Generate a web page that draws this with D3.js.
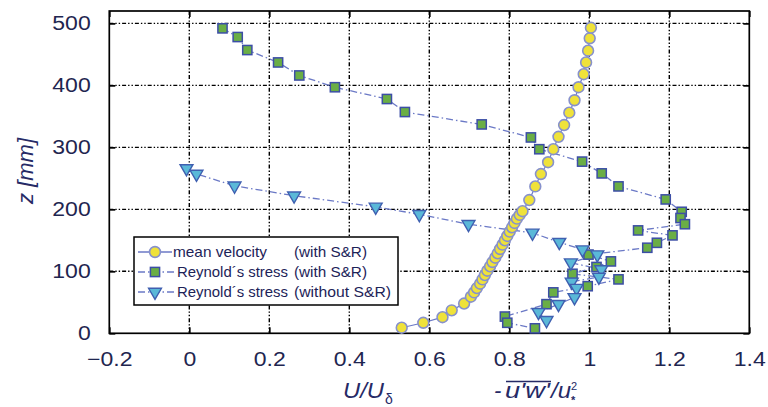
<!DOCTYPE html>
<html><head><meta charset="utf-8">
<script src="https://cdn.jsdelivr.net/npm/d3@7"></script>
<style>body{margin:0;background:#fff}svg{display:block}text{font-family:"Liberation Sans",Arial,sans-serif}</style>
</head><body><svg id="c" width="768" height="407"></svg>
<script>
// ---- data ----
const xTicks = [-0.2, 0, 0.2, 0.4, 0.6, 0.8, 1, 1.2, 1.4];
const yTicks = [0, 100, 200, 300, 400, 500];

// mean velocity U/U_delta (with S&R)
const velZ = [9, 17, 26, 37, 48, 59, 66, 73, 80, 87, 94, 101, 108, 115, 122, 129, 136, 143, 150, 157, 164, 171, 178, 185, 191, 197, 215, 237, 257, 276, 297, 317, 336, 356, 376, 397, 418, 437, 456, 476, 493];
const velU = [0.531, 0.585, 0.633, 0.656, 0.687, 0.704, 0.712, 0.719, 0.727, 0.733, 0.739, 0.745, 0.752, 0.758, 0.765, 0.771, 0.777, 0.783, 0.789, 0.795, 0.801, 0.807, 0.813, 0.819, 0.826, 0.833, 0.850, 0.865, 0.879, 0.897, 0.910, 0.923, 0.937, 0.950, 0.963, 0.973, 0.986, 0.992, 0.997, 1.001, 1.004];

// Reynolds stress (with S&R)
const sqZ = [492, 478, 457, 437, 416, 397, 378, 357, 337, 316, 297, 277, 258, 237, 216, 196, 186, 176, 166, 158, 146, 138, 127, 116, 107, 96, 87, 76, 66, 47, 27, 17, 8];
const sqV = [0.083, 0.121, 0.145, 0.222, 0.275, 0.364, 0.494, 0.539, 0.731, 0.854, 0.875, 0.982, 1.031, 1.073, 1.191, 1.231, 1.228, 1.239, 1.122, 1.208, 1.169, 1.145, 0.998, 1.054, 1.018, 0.958, 1.073, 0.996, 0.910, 0.893, 0.789, 0.795, 0.864];

// Reynolds stress (without S&R)
const triZ = [266, 257, 238, 222, 204, 192, 176, 162, 147, 135, 127, 114, 103, 91, 83, 73, 58, 47, 34, 21];
const triV = [-0.007, 0.018, 0.113, 0.262, 0.466, 0.575, 0.698, 0.858, 0.925, 0.983, 1.020, 0.954, 1.030, 1.024, 0.956, 0.968, 0.963, 0.923, 0.873, 0.893];

const legendLabels = ["mean velocity", "Reynold\u00b4s stress", "Reynold\u00b4s stress"];
const legendNotes = ["(with S&R)", "(with S&R)", "(without S&R)"];

// ---- drawing ----
const svg = d3.select("#c");
const L = 109.3, R = 749.3, T = 11, B = 333.3;
const x = d3.scaleLinear().domain([-0.2, 1.4]).range([L, R]);
const y = d3.scaleLinear().domain([0, 520]).range([B, T]);
const tickColor = "#1f2650";

// grid
const gridDash = "4,2,1.4,2,1.4,2";
svg.append("g").selectAll("line").data(xTicks.slice(1, -1)).join("line")
  .attr("x1", d => x(d)).attr("x2", d => x(d)).attr("y1", T).attr("y2", B)
  .attr("stroke", "#000").attr("stroke-width", 1.4).attr("stroke-dasharray", gridDash);
svg.append("g").selectAll("line").data(yTicks.slice(1)).join("line")
  .attr("y1", d => y(d)).attr("y2", d => y(d)).attr("x1", L).attr("x2", R)
  .attr("stroke", "#000").attr("stroke-width", 1.4).attr("stroke-dasharray", gridDash);

function styleAxis(g, labels) {
  g.select(".domain").remove();
  g.selectAll(".tick line").attr("stroke", "#000").attr("stroke-width", 1.7);
  if (!labels) { g.selectAll("text").remove(); return; }
  g.attr("font-size", 20).attr("font-family", '"Liberation Sans", Arial, sans-serif');
  g.selectAll("text").attr("fill", tickColor).each(function () {
    const w = this.getComputedTextLength();
    d3.select(this).attr("textLength", w * 1.15).attr("lengthAdjust", "spacingAndGlyphs");
  });
}
const fmt = d3.format("~g");
svg.append("g").attr("transform", `translate(0,${B})`)
  .call(d3.axisBottom(x).tickValues(xTicks).tickSize(-6).tickPadding(18.5).tickFormat(fmt))
  .call(g => styleAxis(g, true));
svg.append("g").attr("transform", `translate(0,${T})`)
  .call(d3.axisTop(x).tickValues(xTicks).tickSize(-6))
  .call(g => styleAxis(g, false));
svg.append("g").attr("transform", `translate(${L},0)`)
  .call(d3.axisLeft(y).tickValues(yTicks).tickSize(-6).tickPadding(18.6).tickFormat(fmt))
  .call(g => styleAxis(g, true));
svg.append("g").attr("transform", `translate(${R},0)`)
  .call(d3.axisRight(y).tickValues(yTicks).tickSize(-6))
  .call(g => styleAxis(g, false));

// frame
svg.append("rect").attr("x", L).attr("y", T).attr("width", R - L).attr("height", B - T)
  .attr("fill", "none").attr("stroke", "#000").attr("stroke-width", 1.7);

// series
const lineColor = "#6b79c6";
const dashDot = "7,3,1.5,3";
const line = d3.line().x(d => x(d[0])).y(d => y(d[1]));
const vel = velU.map((v, i) => [v, velZ[i]]);
const sq = sqV.map((v, i) => [v, sqZ[i]]);
const tri = triV.map((v, i) => [v, triZ[i]]);

svg.append("path").datum(vel).attr("d", line).attr("fill", "none")
  .attr("stroke", lineColor).attr("stroke-width", 1.2);
svg.append("path").datum(sq).attr("d", line).attr("fill", "none")
  .attr("stroke", lineColor).attr("stroke-width", 1.3).attr("stroke-dasharray", dashDot);
svg.append("path").datum(tri).attr("d", line).attr("fill", "none")
  .attr("stroke", lineColor).attr("stroke-width", 1.3).attr("stroke-dasharray", dashDot);

const circ = { fill: "#efe23a", stroke: "#8791cc" };
const sqs = { fill: "#6aae45", stroke: "#3c4ea6" };
const tris = { fill: "#5ab8d8", stroke: "#3f5fb0" };
const triPath = d3.symbol().type(d3.symbolTriangle).size(72)();

function drawCircle(g, cx, cy) {
  g.append("circle").attr("cx", cx).attr("cy", cy).attr("r", 5.4)
    .attr("fill", circ.fill).attr("stroke", circ.stroke).attr("stroke-width", 1.6);
}
function drawSquare(g, cx, cy) {
  g.append("rect").attr("x", cx - 4.6).attr("y", cy - 4.6).attr("width", 9.2).attr("height", 9.2)
    .attr("fill", sqs.fill).attr("stroke", sqs.stroke).attr("stroke-width", 1.5);
}
function drawTri(g, cx, cy) {
  g.append("path").attr("d", triPath).attr("transform", `translate(${cx},${cy}) rotate(180)`)
    .attr("fill", tris.fill).attr("stroke", tris.stroke).attr("stroke-width", 1.4);
}
const gm = svg.append("g");
vel.forEach(d => drawCircle(gm, x(d[0]), y(d[1])));
sq.forEach(d => drawSquare(gm, x(d[0]), y(d[1])));
tri.forEach(d => drawTri(gm, x(d[0]), y(d[1])));

// legend
const lg = svg.append("g");
lg.append("rect").attr("x", 134).attr("y", 237).attr("width", 264).attr("height", 68)
  .attr("fill", "#fff").attr("stroke", "#000").attr("stroke-width", 1.5);
const rowY = [252, 272, 292];
const drawers = [drawCircle, drawSquare, drawTri];
const labelW = [94, 111, 111];
const labelX = [173, 177, 177];
const noteW = [73, 73, 97];
rowY.forEach((ry, i) => {
  const ln = lg.append("line").attr("x1", 138).attr("x2", i === 0 ? 172 : 176).attr("y1", ry).attr("y2", ry)
    .attr("stroke", lineColor).attr("stroke-width", 1.3);
  if (i > 0) ln.attr("stroke-dasharray", dashDot);
  drawers[i](lg, 155, ry);
  lg.append("text").attr("x", labelX[i]).attr("y", ry + 5).attr("font-size", 15).attr("fill", "#1d2358")
    .attr("textLength", labelW[i]).attr("lengthAdjust", "spacingAndGlyphs").text(legendLabels[i]);
  lg.append("text").attr("x", 294).attr("y", ry + 5).attr("font-size", 15).attr("fill", "#1d2358")
    .attr("textLength", noteW[i]).attr("lengthAdjust", "spacingAndGlyphs").text(legendNotes[i]);
});

// axis titles
const titleColor = "#262a66";
svg.append("text").attr("transform", "translate(33,171) rotate(-90)").attr("text-anchor", "middle")
  .attr("font-size", 22).attr("font-style", "italic").attr("fill", titleColor).text("z [mm]");

svg.append("text").attr("x", 343).attr("y", 398).attr("font-size", 22).attr("font-style", "italic")
  .attr("fill", titleColor).attr("textLength", 41).attr("lengthAdjust", "spacingAndGlyphs").text("U/U");
svg.append("text").attr("x", 385).attr("y", 404).attr("font-size", 14).attr("fill", titleColor).text("\u03b4");

svg.append("text").attr("x", 494).attr("y", 398).attr("font-size", 22).attr("font-style", "italic")
  .attr("fill", titleColor).text("-");
svg.append("text").attr("x", 505).attr("y", 398).attr("font-size", 22).attr("font-style", "italic")
  .attr("fill", titleColor).attr("textLength", 45).attr("lengthAdjust", "spacingAndGlyphs").text("u'w'");
svg.append("line").attr("x1", 506).attr("x2", 551).attr("y1", 381.5).attr("y2", 381.5)
  .attr("stroke", titleColor).attr("stroke-width", 1.5);
svg.append("text").attr("x", 551).attr("y", 398).attr("font-size", 22).attr("font-style", "italic")
  .attr("fill", titleColor).attr("textLength", 20).attr("lengthAdjust", "spacingAndGlyphs").text("/u");
svg.append("text").attr("x", 571).attr("y", 390).attr("font-size", 11).attr("fill", titleColor).text("2");
svg.append("text").attr("x", 571).attr("y", 404).attr("font-size", 11).attr("font-weight", "bold").attr("fill", titleColor).text("*");
</script></body></html>
